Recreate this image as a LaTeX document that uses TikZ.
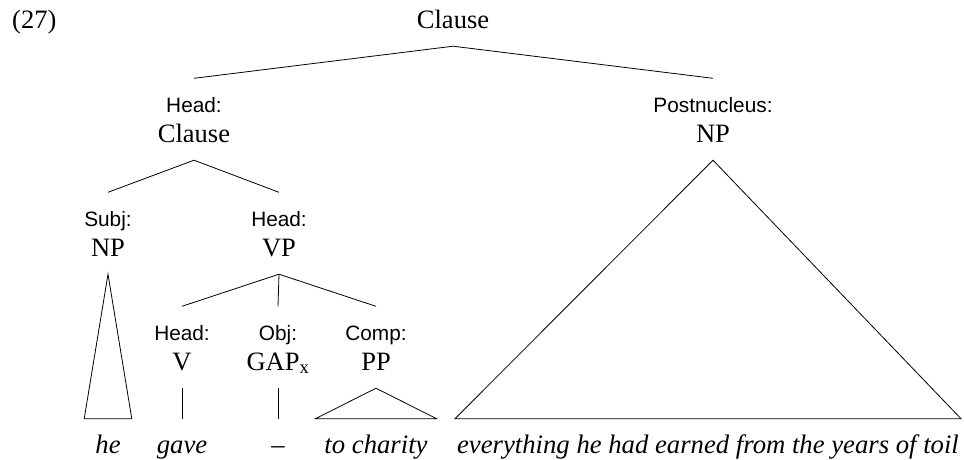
\documentclass[tikz,border=0pt]{standalone}
\usepackage{fontspec}
\setmainfont{Liberation Serif}
\setsansfont{Liberation Sans}
\usetikzlibrary{positioning}

\begin{document}
\begin{tikzpicture}[x=1pt,y=-1pt]
    \tikzset{funclabel/.style={anchor=base,font=\sffamily\fontsize{20.8}{24}\selectfont,text height=14.5pt,text depth=0pt,inner xsep=2pt,inner ysep=19pt},
      catlabel/.style={anchor=base,font=\fontsize{26.5}{30}\selectfont,text height=17pt,text depth=0pt,inner xsep=2pt,inner ysep=18pt},
      wordlabel/.style={anchor=base,font=\itshape\fontsize{26.7}{30}\selectfont,text height=17pt,text depth=0pt,inner ysep=17pt},
      branch/.style={line width=0.8pt,line join=miter}}
    \useasboundingbox (0,0) rectangle (964,459);
    \node[anchor=base west,font=\fontsize{26.5}{30}\selectfont,inner sep=0pt] (ex) at (12,28) {(27)};
    \node[catlabel] (root) at (453,28) {Clause};
    \node[funclabel] (hdfn) at (194,112) {Head:};
    \node[catlabel] (hdcl) at (194,142) {Clause};
    \node[funclabel] (pnfn) at (713,112) {Postnucleus:};
    \node[catlabel] (pnnp) at (713,142) {NP};
    \node[funclabel] (sbfn) at (108,226) {Subj:};
    \node[catlabel] (sbnp) at (108,256) {NP};
    \node[funclabel] (vpfn) at (279,226) {Head:};
    \node[catlabel] (vp) at (279,256) {VP};
    \node[funclabel] (vfn) at (182,340) {Head:};
    \node[catlabel] (v) at (182,370) {V};
    \node[funclabel] (objfn) at (278,340) {Obj:};
    \node[catlabel] (gap) at (278,370) {GAP\textsubscript{x}};
    \node[funclabel] (cpfn) at (376,340) {Comp:};
    \node[catlabel] (pp) at (376,370) {PP};
    \node[wordlabel,inner xsep=11pt] (he) at (108,453) {he};
    \node[wordlabel] (gave) at (182,453) {gave};
    \node[wordlabel] (dash) at (278,453) {--};
    \node[wordlabel,inner xsep=9pt] (charity) at (376,453) {to charity};
    \node[wordlabel,inner xsep=2pt] (toil) at (708,453) {everything he had earned from the years of toil};
    \draw[branch] (hdfn.north) -- (root.south) -- (pnfn.north);
    \draw[branch] (sbfn.north) -- (hdcl.south) -- (vpfn.north);
    \draw[branch] (vfn.north) -- (vp.south) -- (cpfn.north);
    \draw[branch] (vp.south) -- (objfn.north);
    \draw[branch] (v.south) -- (gave.north);
    \draw[branch] (gap.south) -- (dash.north);
    \draw[branch] (sbnp.south) -- (he.north west) -- (he.north east) -- cycle;
    \draw[branch] (pp.south) -- (charity.north west) -- (charity.north east) -- cycle;
    \draw[branch] (pnnp.south) -- (toil.north west) -- (toil.north east) -- cycle;
\end{tikzpicture}
\end{document}
